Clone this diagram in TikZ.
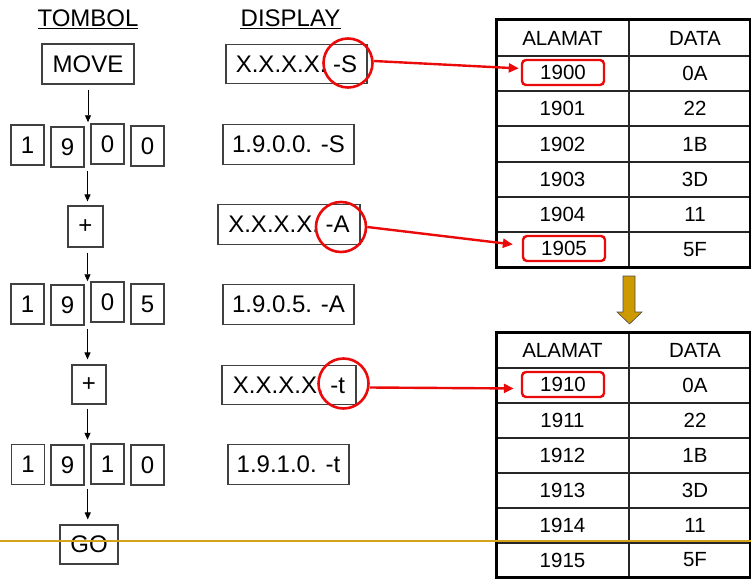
\documentclass[tikz,border=0pt]{standalone}
\usepackage{fontspec}
\setmainfont{Liberation Sans}
\usetikzlibrary{arrows.meta,fit}
\definecolor{goldline}{RGB}{214,162,28}
\definecolor{goldfill}{RGB}{204,153,0}
\definecolor{hired}{RGB}{235,10,10}

\begin{document}
\begin{tikzpicture}[x=1pt,y=-1pt,
  big/.style={font=\fontsize{24}{28}\selectfont},
  small/.style={font=\fontsize{20.5}{24}\selectfont},
  keybox/.style={big,draw=black!75,line width=1.1pt,inner sep=0pt},
  digit/.style={keybox,minimum width=33pt,minimum height=40pt},
  shown/.style={keybox,minimum height=39.5pt},
  ring/.style={circle,draw=hired,line width=2.6pt,minimum size=49pt,inner sep=0pt},
  cell/.style={small,inner sep=0pt},
  hilite/.style={cell,draw=hired,line width=2.4pt,rounded corners=4pt,
    minimum width=82pt,minimum height=25pt},
  flow/.style={-{Triangle[length=7pt,width=6pt]},line width=0.9pt,black},
  pointer/.style={-{Triangle[length=10pt,width=9pt]},line width=2.4pt,hired},
  grid/.style={line width=1.4pt,black!85},
  frame/.style={line width=3pt,black}
]
\useasboundingbox (0,0) rectangle (751,578);

% column headings
\node[big,inner sep=0pt] (hkey) at (88,18) {TOMBOL};
\node[big,inner sep=0pt] (hdisp) at (290.5,18) {DISPLAY};
\draw[line width=1.3pt] (38,28.5) -- (138,28.5);
\draw[line width=1.3pt] (240,28.5) -- (341,28.5);

% key sequence
\node[keybox,minimum width=92pt,minimum height=40pt] (move) at (88,64) {MOVE};

\node[digit] (d11) at (27.5,145) {1};
\node[digit] (d12) at (67.5,147) {9};
\node[digit] (d13) at (107.5,144) {0};
\node[digit] (d14) at (147.5,146) {0};
\node[fit=(d11)(d14),inner sep=0pt] (row1) {};

\node[keybox,minimum width=35pt,minimum height=41pt] (plus1) at (85.5,226.5) {+};

\node[digit] (d21) at (27.5,304) {1};
\node[digit] (d22) at (67.5,305) {9};
\node[digit] (d23) at (107.5,302) {0};
\node[digit] (d24) at (147.5,304) {5};
\node[fit=(d21)(d24),inner sep=0pt] (row2) {};

\node[keybox,minimum width=34pt,minimum height=39pt] (plus2) at (89,384.5) {+};

\node[digit] (d31) at (28,464.5) {1};
\node[digit] (d32) at (67.5,465) {9};
\node[digit] (d33) at (107.5,464) {1};
\node[digit] (d34) at (147.5,465) {0};
\node[fit=(d31)(d34),inner sep=0pt] (row3) {};

\node[keybox,minimum width=58pt,minimum height=39pt] (go) at (89,544.5) {GO};

\draw[flow,shorten <=5pt,shorten >=2pt] (move.south) -- (move.south |- row1.north);
\draw[flow,shorten <=4pt,shorten >=4pt] (row1.south) -- (row1.south |- plus1.north);
\draw[flow,shorten <=5pt,shorten >=2pt] (row1.south |- plus1.south) -- (row1.south |- row2.north);
\draw[flow,shorten <=4pt,shorten >=5pt] (row2.south) -- (row2.south |- plus2.north);
\draw[flow,shorten <=4pt,shorten >=4pt] (row2.south |- plus2.south) -- (row2.south |- row3.north);
\draw[flow,shorten <=3pt,shorten >=5pt] (row3.south) -- (row3.south |- go.north);

% display readouts
\node[shown,minimum width=141pt] (s1) at (296.5,64) {X.X.X.X. -S};
\node[shown,minimum width=131pt] (s2) at (288.5,144.5) {1.9.0.0. -S};
\node[shown,minimum width=142pt] (s3) at (289,224.5) {X.X.X.X. -A};
\node[shown,minimum width=131pt] (s4) at (288.5,304.5) {1.9.0.5. -A};
\node[shown,minimum width=134pt] (s5) at (289,385) {X.X.X.X. -t};
\node[shown,minimum width=121pt] (s6) at (288.5,464.5) {1.9.1.0. -t};

\node[ring] (c1) at (348,63) {};
\node[ring,minimum size=50pt] (c2) at (341,227) {};
\node[ring,minimum size=50pt] (c3) at (343.5,383.5) {};

% memory table before the step
\draw[grid] (496,56) -- (750,56);
\foreach \yy in {91,126,162,197,232} \draw[grid] (496,\yy) -- (750,\yy);
\draw[grid] (629,20) -- (629,267);
\draw[frame] (496,20) rectangle (750,267);

\node[cell] (ta) at (562.5,38) {ALAMAT};
\node[cell] (td) at (695,38) {DATA};
\node[hilite] (a10) at (563,72.5) {1900};
\node[cell] (b10) at (695,73.5) {0A};
\node[cell] (a11) at (562.5,108.5) {1901};
\node[cell] (b11) at (695,108.5) {22};
\node[cell] (a12) at (562.5,144) {1902};
\node[cell] (b12) at (695,144) {1B};
\node[cell] (a13) at (562.5,179.5) {1903};
\node[cell] (b13) at (695,179.5) {3D};
\node[cell] (a14) at (562.5,214.5) {1904};
\node[cell] (b14) at (695,214.5) {11};
\node[hilite] (a15) at (564,248.5) {1905};
\node[cell] (b15) at (695,249.5) {5F};

% block arrow between the two tables
\draw[fill=goldfill,draw=black!70,line width=0.6pt]
  (623,276) -- (635,276) -- (635,312) -- (642,312) -- (629.5,324)
  -- (617,312) -- (623,312) -- cycle;

% memory table after the step
\draw[grid] (496,368) -- (750,368);
\foreach \yy in {403,438,473,508,543} \draw[grid] (496,\yy) -- (750,\yy);
\draw[grid] (629,332) -- (629,577);
\draw[frame] (496,332) rectangle (750,577);

\node[cell] (ua) at (562.5,350) {ALAMAT};
\node[cell] (ud) at (695,350) {DATA};
\node[hilite] (e10) at (563,384.5) {1910};
\node[cell] (f10) at (695,385.5) {0A};
\node[cell] (e11) at (562.5,420.5) {1911};
\node[cell] (f11) at (695,420.5) {22};
\node[cell] (e12) at (562.5,455.5) {1912};
\node[cell] (f12) at (695,455.5) {1B};
\node[cell] (e13) at (562.5,490.5) {1913};
\node[cell] (f13) at (695,490.5) {3D};
\node[cell] (e14) at (562.5,525.5) {1914};
\node[cell] (f14) at (695,525.5) {11};
\node[cell] (e15) at (562.5,560) {1915};
\node[cell] (f15) at (695,560) {5F};

% pointers from the display suffix to the addressed cell
\draw[pointer,shorten >=2pt] ([yshift=2pt]c1.east) -- ([yshift=4pt]a10.west);
\draw[pointer,shorten >=9pt] (c2.east) -- ([yshift=3pt]a15.west);
\draw[pointer,shorten >=7pt] ([yshift=-4pt]c3.east) -- ([yshift=-4pt]e10.west);

% rule across the slide
\draw[goldline,line width=2pt] (0,540.5) -- (751,540.5);
\end{tikzpicture}
\end{document}
